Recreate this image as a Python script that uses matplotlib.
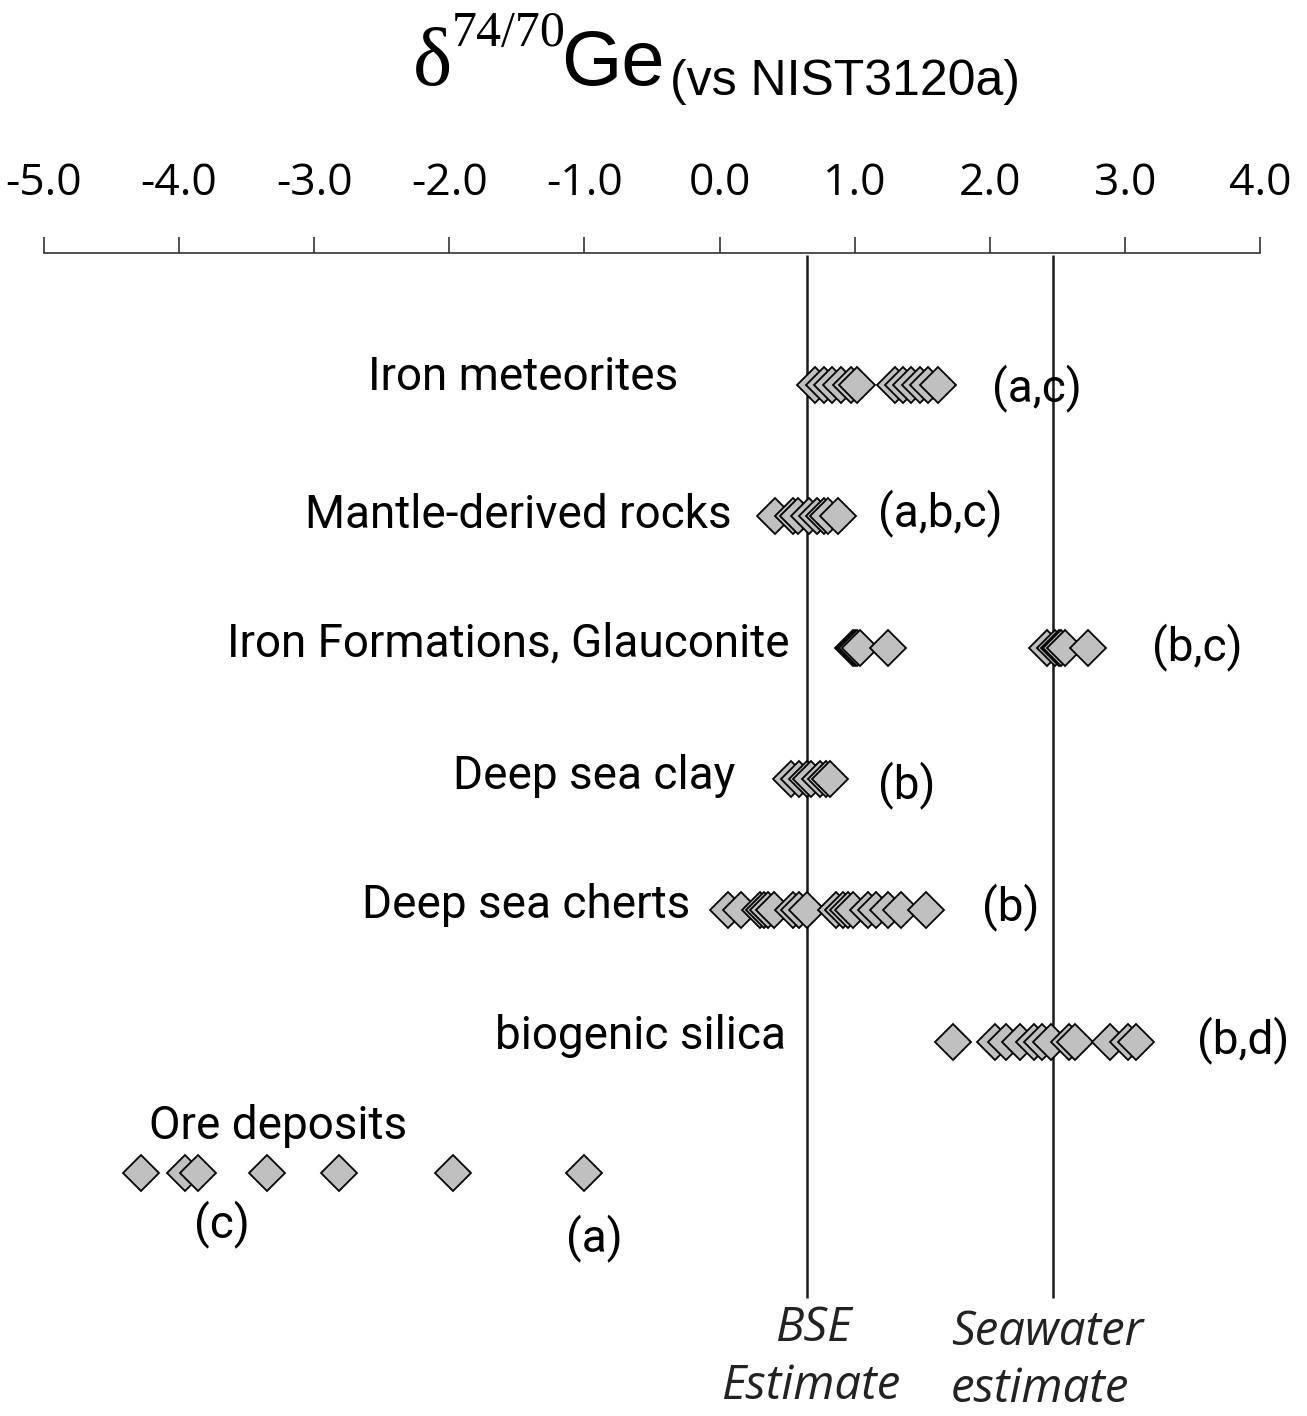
import matplotlib
matplotlib.use('Agg')
import matplotlib.pyplot as plt

W, H = 1307, 1416

# isotope values (delta 74/70 Ge, per mil vs NIST3120a)
iron_meteorites = [0.71, 0.77, 0.83, 0.90, 0.97, 1.02, 1.30, 1.36, 1.42, 1.48, 1.54, 1.62]
mantle_rocks = [0.41, 0.54, 0.58, 0.66, 0.72, 0.77, 0.80, 0.88]
iron_formations = [0.99, 1.00, 1.02, 1.04, 1.25, 2.42, 2.48, 2.51, 2.53, 2.56, 2.73]
deep_sea_clay = [0.53, 0.59, 0.65, 0.68, 0.74, 0.79, 0.82]
deep_sea_cherts = [0.06, 0.16, 0.30, 0.33, 0.36, 0.40, 0.54, 0.59, 0.65, 0.86, 0.91,
                   0.95, 0.99, 1.10, 1.16, 1.25, 1.34, 1.53]
biogenic_silica = [1.73, 2.04, 2.12, 2.22, 2.33, 2.39, 2.45, 2.59, 2.63, 2.89, 3.02, 3.08]
ore_deposits = [-4.28, -3.96, -3.86, -3.35, -2.82, -1.97, -1.00]

groups = [iron_meteorites, mantle_rocks, iron_formations, deep_sea_clay,
          deep_sea_cherts, biogenic_silica, ore_deposits]
names = ['Iron meteorites', 'Mantle-derived rocks', 'Iron Formations, Glauconite',
         'Deep sea clay', 'Deep sea cherts', 'biogenic silica', 'Ore deposits']
refs = ['(a,c)', '(a,b,c)', '(b,c)', '(b)', '(b)', '(b,d)']

bse_estimate = 0.647
seawater_estimate = 2.47

ticks = [-5, -4, -3, -2, -1, 0, 1, 2, 3, 4]
tick_labels = ['-5.0', '-4.0', '-3.0', '-2.0', '-1.0', '0.0', '1.0', '2.0', '3.0', '4.0']

# layout (pixels)
name_pos = [(678, 377), (732, 515), (790, 643), (735, 776), (690, 905), (786, 1036), (278, 1126)]
name_ha = ['right'] * 6 + ['center']
ref_pos = [(992, 388), (878, 513), (1152, 647), (878, 785), (982, 907), (1197, 1040)]

narrow = ['Roboto', 'DejaVu Sans']

fig = plt.figure(figsize=(W / 100, H / 100), dpi=100)
ax_top, ax_bot = 253, 1416
ax = fig.add_axes([44 / W, 0, 1216 / W, 1 - ax_top / H])

row0, step = 385, 131.3
def row_y(py):
    return (py - row0) / step

for i, vals in enumerate(groups):
    ax.plot(vals, [i] * len(vals), linestyle='none', marker='D', markersize=18.5,
            markerfacecolor='#c0c0c0', markeredgecolor='black', markeredgewidth=1.3,
            zorder=3)

ax.vlines([bse_estimate, seawater_estimate], row_y(255), row_y(1298),
          colors='#1a1a1a', linewidth=1.8, zorder=2)

ax.set_xlim(-5, 4)
ax.set_ylim(row_y(ax_bot), row_y(ax_top))
for s in ['left', 'right', 'bottom']:
    ax.spines[s].set_visible(False)
ax.spines['top'].set_linewidth(1.2)
ax.spines['top'].set_color('#333333')
ax.set_yticks([])
ax.xaxis.set_ticks_position('top')
ax.set_xticks(ticks)
ax.set_xticklabels(tick_labels, fontfamily='Open Sans', fontsize=32)
ax.tick_params(axis='x', direction='out', length=11.5, width=1.2, color='#333333',
               pad=22)
ax.patch.set_alpha(0)


def ftext(px, py, s, **kw):
    return fig.text(px / W, 1 - py / H, s, **kw)


for (px, py), name, ha in zip(name_pos, names, name_ha):
    ftext(px, py, name, ha=ha, va='center', fontsize=33, family=narrow)
for (px, py), r in zip(ref_pos, refs):
    ftext(px, py, r, ha='left', va='center', fontsize=33, family=narrow)
ftext(222, 1224, '(c)', ha='center', va='center', fontsize=33, family=narrow)
ftext(594, 1238, '(a)', ha='center', va='center', fontsize=33, family=narrow)

ital = dict(ha='center', va='center', fontsize=34, style='italic',
            family='Open Sans', color='#222222')
ftext(813, 1328, 'BSE', **ital)
ftext(811, 1386, 'Estimate', **ital)
ftext(1047, 1332, 'Seawater', **ital)
ftext(1040, 1389, 'estimate', **ital)

# title
ftext(413, 85, 'δ', ha='left', va='baseline', fontsize=60, family='Liberation Serif')
ftext(452, 46, '74/70', ha='left', va='baseline', fontsize=36, family='Liberation Serif')
ftext(561, 85, 'Ge', ha='left', va='baseline', fontsize=56, family='Liberation Sans')
ftext(670, 95, '(vs NIST3120a)', ha='left', va='baseline', fontsize=36, family='Liberation Sans')

fig.savefig('out.png', dpi=100)
